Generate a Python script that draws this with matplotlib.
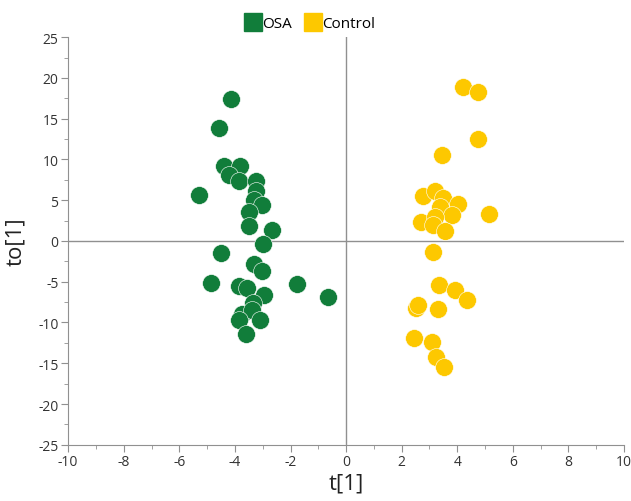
import matplotlib
matplotlib.use('Agg')
import matplotlib.pyplot as plt
from matplotlib.ticker import MultipleLocator

plt.rcParams['font.family'] = ['Open Sans', 'DejaVu Sans']
plt.rcParams['axes.unicode_minus'] = False

# OSA scores (t[1], to[1])
osa_t = [-4.15, -4.59, -4.41, -3.81, -4.23, -3.87, -3.24, -3.24, -5.28, -3.33,
         -3.03, -3.48, -3.51, -2.67, -3.0, -4.51, -3.33, -3.03, -4.86, -3.87,
         -3.57, -1.77, -0.64, -2.97, -3.36, -3.75, -3.39, -3.87, -3.09, -3.6]
osa_to = [17.4, 13.8, 9.2, 9.15, 8.1, 7.3, 7.3, 6.07, 5.6, 5.05,
          4.4, 3.6, 1.85, 1.35, -0.4, -1.44, -2.87, -3.65, -5.2, -5.5,
          -5.75, -5.33, -6.86, -6.57, -7.6, -8.9, -8.5, -9.65, -9.73, -11.4]

# Control scores
ctl_t = [4.2, 4.76, 4.76, 3.44, 2.78, 3.2, 3.5, 4.04, 3.38, 3.8,
         5.14, 2.69, 3.2, 3.14, 3.56, 3.14, 3.36, 3.92, 4.34, 2.52,
         2.6, 3.32, 2.45, 3.08, 3.24, 3.53]
ctl_to = [18.9, 18.3, 12.5, 10.6, 5.54, 6.07, 5.25, 4.55, 4.2, 3.2,
          3.28, 2.38, 3.0, 1.97, 1.27, -1.3, -5.4, -6.0, -7.2, -8.2,
          -7.9, -8.4, -11.9, -12.4, -14.2, -15.5]

green = '#117d3a'
yellow = '#fdc800'

fig = plt.figure(figsize=(6.31, 5.02), dpi=100)
ax = fig.add_axes([0.108, 0.112, 0.881, 0.812])

ax.axhline(0, color='#909090', lw=1, zorder=1)
ax.axvline(0, color='#909090', lw=1, zorder=1)

ax.scatter(osa_t, osa_to, s=165, color=green, edgecolor='white', linewidth=0.4, zorder=3, label='OSA')
ax.scatter(ctl_t, ctl_to, s=165, color=yellow, edgecolor='white', linewidth=0.4, zorder=3, label='Control')

ax.set_xlim(-10, 10)
ax.set_ylim(-25, 25)
ax.xaxis.set_major_locator(MultipleLocator(2))
ax.xaxis.set_minor_locator(MultipleLocator(1))
ax.yaxis.set_major_locator(MultipleLocator(5))
ax.yaxis.set_minor_locator(MultipleLocator(2.5))

for s in ['top', 'right']:
    ax.spines[s].set_visible(False)
for s in ['left', 'bottom']:
    ax.spines[s].set_color('#909090')
ax.tick_params(which='major', length=5, color='#909090', labelsize=10, labelcolor='#333333', pad=2)
ax.tick_params(which='minor', length=3, color='#909090')

ax.set_xlabel('t[1]', fontsize=16, color='#222222', labelpad=2)
ax.set_ylabel('to[1]', fontsize=16, color='#222222')
ax.yaxis.set_label_coords(-0.075, 0.5)

handles = [plt.Line2D([], [], marker='s', ls='', markersize=13, color=green),
           plt.Line2D([], [], marker='s', ls='', markersize=13, color=yellow)]
fig.legend(handles, ['OSA', 'Control'], loc='upper center', bbox_to_anchor=(0.49, 0.993),
           ncol=2, frameon=False, fontsize=11, handletextpad=0.0, columnspacing=0.8,
           handlelength=1.2)

fig.savefig('out.png', dpi=100)
